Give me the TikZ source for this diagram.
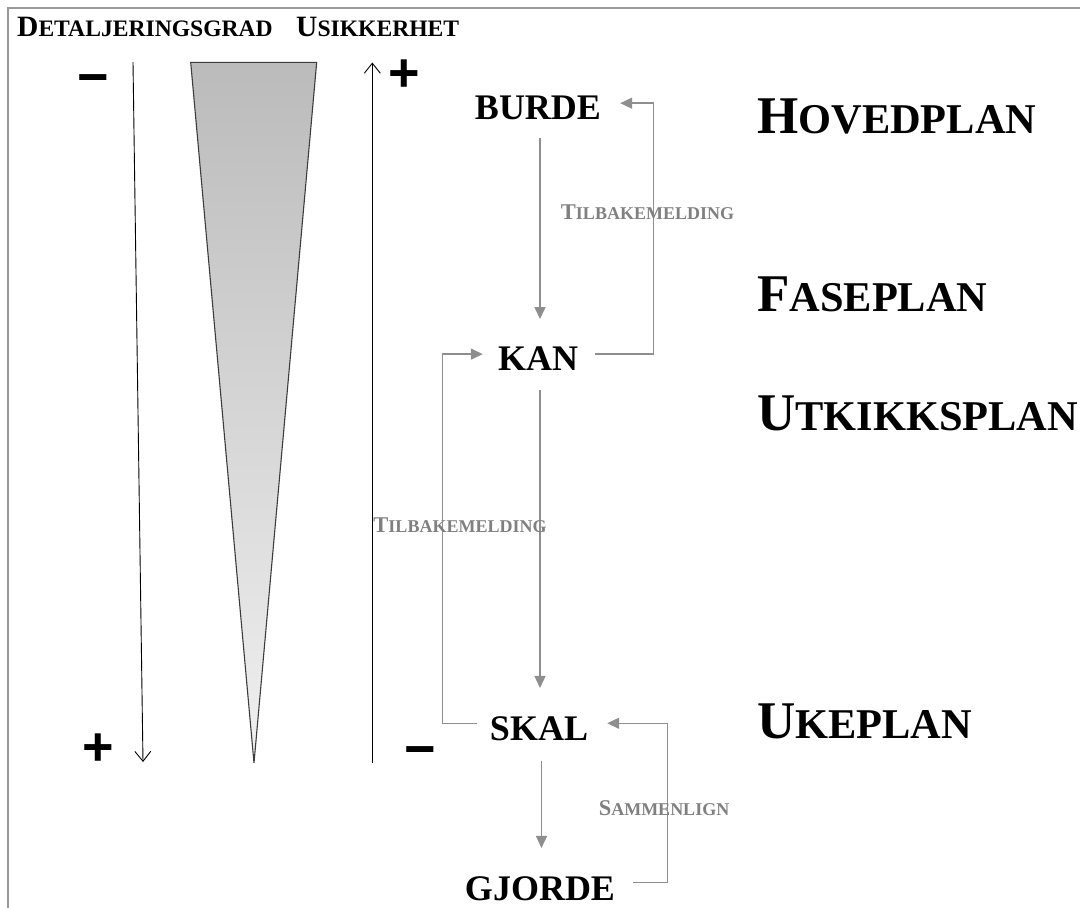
\documentclass[tikz,border=0pt]{standalone}
\usepackage{fontspec}
\setmainfont{Liberation Serif}
\newfontfamily\signfont{Liberation Sans}
\usetikzlibrary{arrows.meta}

% small-caps lookalike: first letter at #1, the rest at #2
\newcommand\scw[4]{{\fontsize{#1}{#1}\selectfont #3}{\fontsize{#2}{#2}\selectfont #4}}

\definecolor{linegray}{HTML}{8E8E8E}
\definecolor{notegray}{HTML}{808080}
\definecolor{framegray}{HTML}{9A9A9A}
\definecolor{wedgetop}{HTML}{BBBBBB}
\definecolor{wedgebot}{HTML}{F0F0F0}
\definecolor{wedgeline}{HTML}{3C3C3C}

\begin{document}
\begin{tikzpicture}[x=1pt,y=-1pt,
  title/.style={font=\bfseries, inner sep=0pt, anchor=base west},
  stage/.style={font={\bfseries\fontsize{36}{36}\selectfont}, inner sep=0pt, anchor=base},
  note/.style={font=\bfseries, text=notegray, inner sep=0pt},
  sign/.style={font={\signfont\bfseries\fontsize{54}{54}\selectfont}, inner sep=0pt},
  flow/.style={draw=linegray, line width=1.4pt, -{Triangle[length=12pt,width=11pt]}},
  axis/.style={draw=black, line width=0.9pt, -{Straight Barb[length=10pt,width=16pt]}}]
\useasboundingbox (0,0) rectangle (1080,908);

% frame on the left and top edges
\draw[framegray, line width=1.3pt] (8,908) -- (8,8) -- (1080,8);

% column headings
\node[title] (detal) at (17,36.7) {\scw{29.5}{23.6}{D}{ETALJERINGSGRAD}};
\node[title] (usikk) at (296,36.7) {\scw{29.5}{23.6}{U}{SIKKERHET}};

% plan levels
\node[title] (hoved)  at (757,133.3) {\scw{53}{42.4}{H}{OVEDPLAN}};
\node[title] (fase)   at (757,311.7) {\scw{53}{42.4}{F}{ASEPLAN}};
\node[title] (utkikk) at (757,430.7) {\scw{53}{42.4}{U}{TKIKKSPLAN}};
\node[title] (uke)    at (757,738.3) {\scw{53}{42.4}{U}{KEPLAN}};

% detail axis (downwards) and uncertainty axis (upwards)
\coordinate (dtop) at (133,62);
\coordinate (dbot) at (143,762);
\coordinate (utop) at (372.3,62.5);
\coordinate (ubot) at (372.3,763);
\draw[axis] (dtop) -- (dbot);
\draw[axis] (ubot) -- (utop);

% narrowing wedge
\shadedraw[top color=wedgetop, bottom color=wedgebot, draw=wedgeline, line width=1.1pt, line join=miter]
  (190.7,62.3) -- (316.7,62.3) -- (254,763) -- cycle;

% signs at the axis ends
\node[sign] (dminus) at (93,85)  {−};
\node[sign] (uplus)  at (404,76) {+};
\node[sign] (dplus)  at (98,750) {+};
\node[sign] (uminus) at (420,757) {−};

% stages
\node[stage] (burde)  at (538,119.3) {BURDE};
\node[stage] (kan)    at (538,370)   {KAN};
\node[stage] (skal)   at (539,740)   {SKAL};
\node[stage] (gjorde) at (540,900)   {GJORDE};

% main flow
\draw[flow] ([xshift=2pt,yshift=-18pt]burde.south) -- ([xshift=2pt,yshift=27pt]kan.north);
\draw[flow] ([xshift=2pt,yshift=-20pt]kan.south) -- ([xshift=1pt,yshift=28pt]skal.north);
\draw[flow] ([xshift=2.5pt,yshift=-20pt]skal.south) -- ([xshift=1.5pt,yshift=28pt]gjorde.north);

% feedback loops
\draw[flow] ([xshift=17pt,yshift=4pt]kan.east) -- ++(58,0) |- ([xshift=19pt,yshift=4.5pt]burde.east);
\draw[flow] ([xshift=-13pt,yshift=5pt]skal.west) -- ++(-34.5,0) |- ([xshift=-15pt,yshift=4pt]kan.west);
\draw[flow] ([xshift=18pt,yshift=6pt]gjorde.east) -- ++(34,0) |- ([xshift=19pt,yshift=5pt]skal.east);

% loop labels
\node[note] (tb1)  at (647.5,212) {\scw{22.5}{18}{T}{ILBAKEMELDING}};
\node[note] (tb2)  at (460,525)   {\scw{22.5}{18}{T}{ILBAKEMELDING}};
\node[note] (samm) at (664,808)   {\scw{22.5}{18}{S}{AMMENLIGN}};
\end{tikzpicture}
\end{document}
